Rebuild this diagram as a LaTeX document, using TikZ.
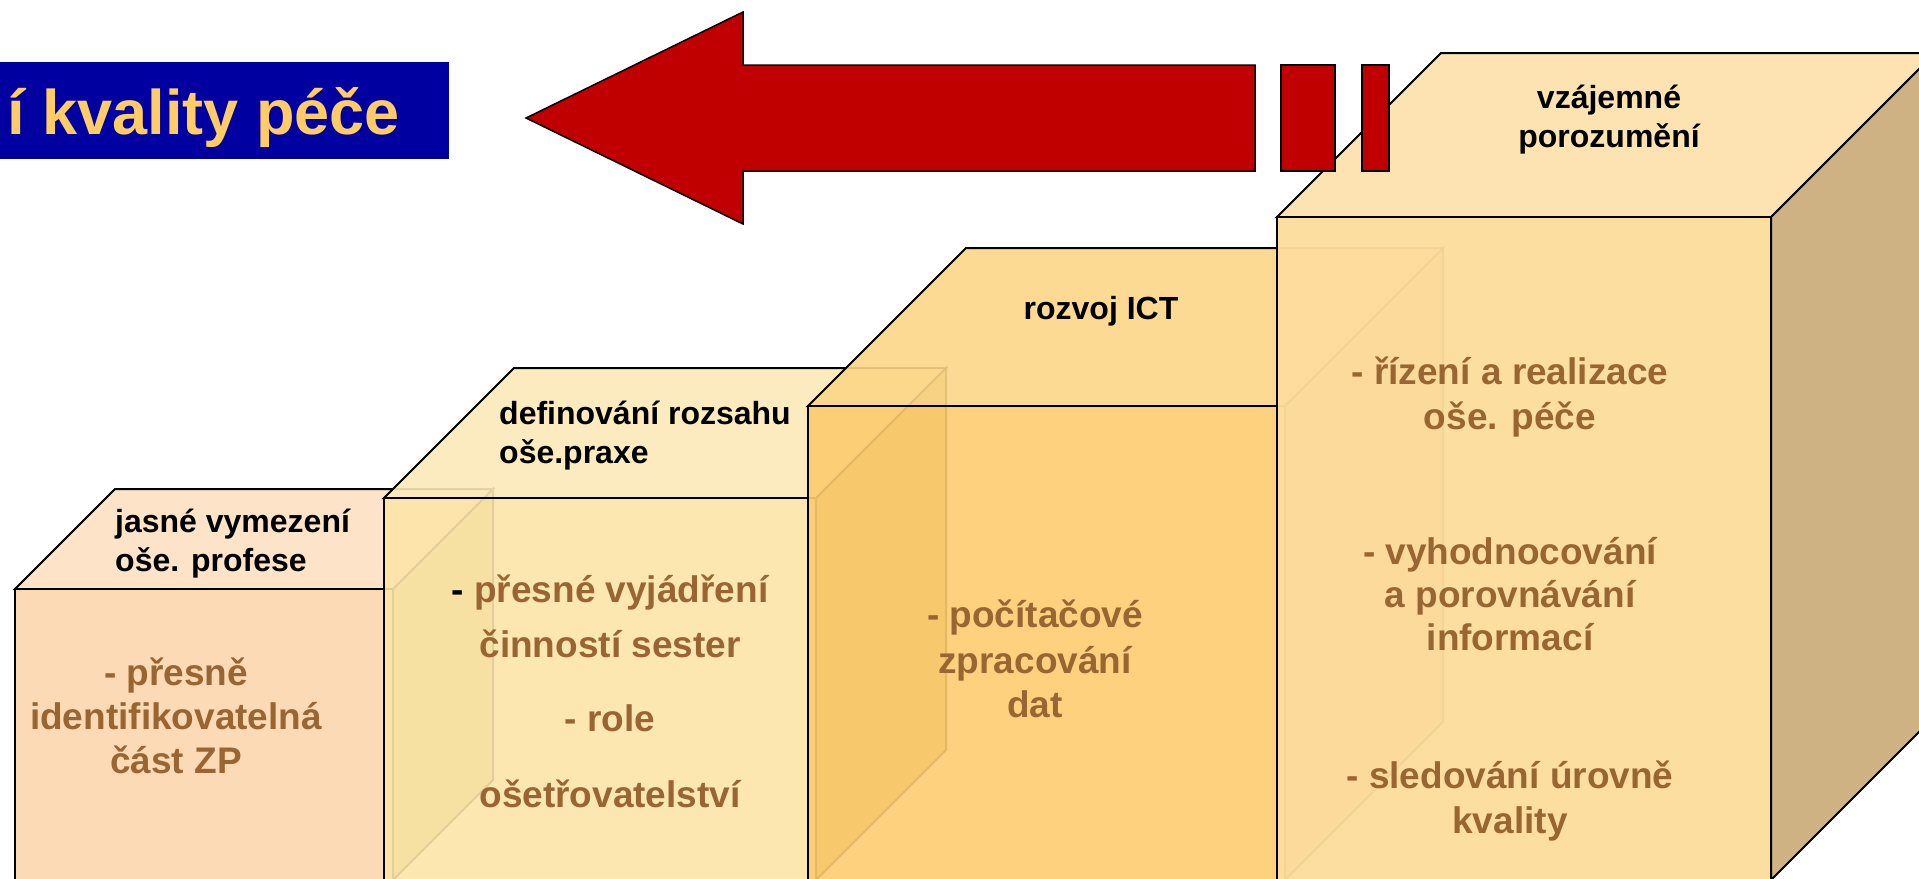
\documentclass[tikz,border=0pt]{standalone}
\usepackage{fontspec}
\setmainfont{Liberation Sans}
\definecolor{titleblue}{RGB}{0,0,160}
\definecolor{titleyellow}{RGB}{255,204,102}
\definecolor{arrowred}{RGB}{192,0,0}
\definecolor{txtbrown}{RGB}{153,102,51}
\definecolor{bAf}{RGB}{252,214,173}
\definecolor{bAt}{RGB}{253,225,194}
\definecolor{bAs}{RGB}{195,175,85}
\definecolor{bBf}{RGB}{252,229,169}
\definecolor{bBt}{RGB}{252,233,183}
\definecolor{bBs}{RGB}{195,155,65}
\definecolor{bCf}{RGB}{253,205,111}
\definecolor{bCt}{RGB}{253,215,136}
\definecolor{bCs}{RGB}{199,160,84}
\definecolor{bDf}{RGB}{253,221,158}
\definecolor{bDt}{RGB}{254,226,175}
\definecolor{bDs}{RGB}{205,175,126}
\newcommand\drawcuboid[8]{%
  \filldraw[boxline, fill opacity=#8, fill=#7] (#1+#3,#2) -- ++(#4,-#4) -- (#1+#3+#4,880-#4) -- (#1+#3,880) -- cycle;
  \filldraw[boxline, fill opacity=#8, fill=#6] (#1,#2) -- ++(#4,-#4) -- ++(#3,0) -- (#1+#3,#2) -- cycle;
  \filldraw[boxline, fill opacity=#8, fill=#5] (#1,#2) rectangle (#1+#3,880);
}
\begin{document}
\begin{tikzpicture}[x=1pt,y=-1pt,
  boxline/.style={draw=black, line width=2pt, line join=miter},
  lbl/.style={inner sep=0pt, text=black, font=\fontsize{32}{38}\selectfont\bfseries},
  ft/.style={inner sep=0pt, anchor=base, text=txtbrown, font=\fontsize{37}{44}\selectfont\bfseries},
  arrowshape/.style={fill=arrowred, draw=black, line width=1.5pt, line join=miter}]
\useasboundingbox (0,0) rectangle (1919,878);
\fill[white] (0,0) rectangle (1919,878);
% title
\fill[titleblue] (0,62) rectangle (449,159);
\node[inner sep=0pt, anchor=base east, text=titleyellow, font=\fontsize{63}{70}\selectfont\bfseries] (title) at (400,134) {í kvality péče};
% boxes
\drawcuboid{15}{589}{378}{100}{bAf}{bAt}{bAs}{0.9}
\drawcuboid{384}{498}{432}{130}{bBf}{bBt}{bBs}{0.9}
\drawcuboid{808}{406}{477}{158}{bCf}{bCt}{bCs}{0.9}
\drawcuboid{1277}{217}{494}{164}{bDf}{bDt}{bDs}{0.96}
% arrow
\filldraw[arrowshape] (526,118) -- (743,12) -- (743,65) -- (1255,65) -- (1255,171) -- (743,171) -- (743,224) -- cycle;
\filldraw[arrowshape] (1281,65) rectangle (1335,171);
\filldraw[arrowshape] (1362,65) rectangle (1389,171);
% top labels
\node[lbl, anchor=base west] (l1a) at (115,532) {jasné vymezení};
\node[lbl, anchor=base west] (l1b) at (115,571) {oše. profese};
\node[lbl, anchor=base west] (l2a) at (499,424) {definování rozsahu};
\node[lbl, anchor=base west] (l2b) at (499,463) {oše.praxe};
\node[lbl, anchor=base] (l3a) at (1101,319) {rozvoj ICT};
\node[lbl, anchor=base] (l4a) at (1609,108) {vzájemné};
\node[lbl, anchor=base] (l4b) at (1609,147) {porozumění};
% front texts
\node[ft] (f1a) at (176,685) {- přesně};
\node[ft] (f1b) at (176,729) {identifikovatelná};
\node[ft] (f1c) at (176,773) {část ZP};
\node[ft] (f2a) at (610,602) {{\color{black}-} přesné vyjádření};
\node[ft] (f2b) at (610,657) {činností sester};
\node[ft] (f2c) at (610,731) {- role};
\node[ft] (f2d) at (610,807) {ošetřovatelství};
\node[ft] (f3a) at (1035,627) {- počítačové};
\node[ft] (f3b) at (1035,673) {zpracování};
\node[ft] (f3c) at (1035,717) {dat};
\node[ft] (f4a) at (1510,384) {- řízení a realizace};
\node[ft] (f4b) at (1510,429) {oše. péče};
\node[ft] (f4c) at (1510,564) {- vyhodnocování};
\node[ft] (f4d) at (1510,607) {a porovnávání};
\node[ft] (f4e) at (1510,650) {informací};
\node[ft] (f4f) at (1510,788) {- sledování úrovně};
\node[ft] (f4g) at (1510,833) {kvality};
\end{tikzpicture}
\end{document}
